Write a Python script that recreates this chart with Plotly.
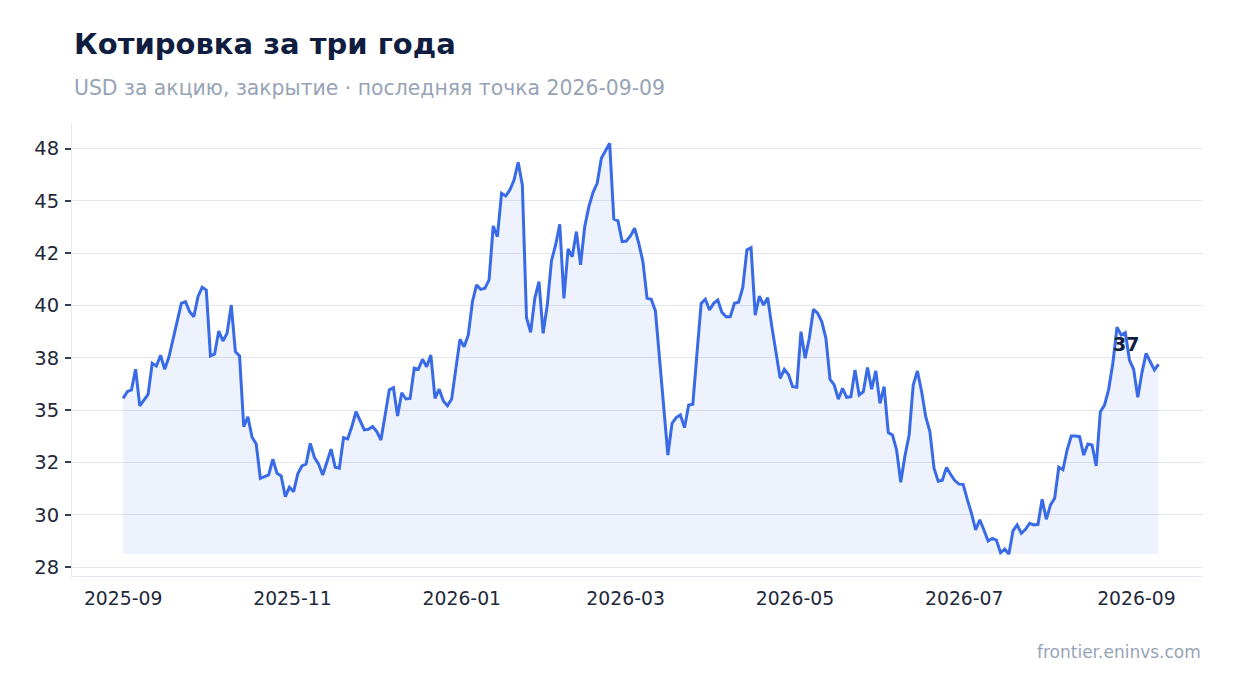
import pandas as pd
import plotly.graph_objects as go

start_date = "2025-09-01"
end_date = "2026-09-09"

prices = [
    35.56, 35.88, 35.96, 36.95, 35.20, 35.48, 35.75, 37.24, 37.11, 37.62,
    36.95, 37.52, 38.38, 39.26, 40.10, 40.18, 39.70, 39.46, 40.42, 40.87,
    40.74, 37.59, 37.68, 38.78, 38.30, 38.67, 40.02, 37.79, 37.59, 34.21,
    34.68, 33.70, 33.38, 31.74, 31.82, 31.90, 32.65, 31.98, 31.85, 30.86,
    31.31, 31.10, 31.95, 32.33, 32.42, 33.41, 32.74, 32.42, 31.90, 32.49,
    33.13, 32.27, 32.22, 33.68, 33.62, 34.21, 34.92, 34.49, 34.05, 34.08,
    34.21, 33.97, 33.57, 34.75, 35.96, 36.07, 34.72, 35.83, 35.53, 35.56,
    37.00, 36.95, 37.43, 37.07, 37.63, 35.56, 36.00, 35.44, 35.21, 35.53,
    37.07, 38.38, 38.03, 38.59, 40.18, 40.98, 40.77, 40.82, 41.22, 43.80,
    43.29, 45.36, 45.23, 45.52, 45.99, 46.84, 45.76, 39.42, 38.72, 40.34,
    41.14, 38.67, 40.02, 42.13, 42.89, 43.88, 40.34, 42.70, 42.33, 43.53,
    41.94, 43.77, 44.72, 45.41, 45.84, 47.04, 47.39, 47.75, 44.13, 44.04,
    43.05, 43.08, 43.32, 43.69, 42.97, 42.09, 40.34, 40.30, 39.74, 37.45,
    34.90, 32.85, 34.37, 34.64, 34.77, 34.16, 35.24, 35.28, 37.71, 40.10,
    40.30, 39.78, 40.10, 40.26, 39.67, 39.46, 39.46, 40.10, 40.15, 40.85,
    42.65, 42.76, 39.54, 40.45, 40.02, 40.37, 38.99, 37.71, 36.52, 36.95,
    36.70, 36.12, 36.09, 38.75, 37.48, 38.43, 39.82, 39.63, 39.23, 38.43,
    36.47, 36.20, 35.52, 36.04, 35.61, 35.64, 36.92, 35.72, 35.88, 37.03,
    36.00, 36.87, 35.32, 36.12, 33.92, 33.81, 33.09, 31.55, 32.80, 33.80,
    36.20, 36.87, 35.90, 34.68, 33.97, 32.22, 31.60, 31.65, 32.26, 31.92,
    31.63, 31.46, 31.45, 30.73, 30.07, 29.27, 29.75, 29.27, 28.74, 28.87,
    28.79, 28.18, 28.35, 28.12, 29.24, 29.51, 29.11, 29.30, 29.59, 29.51,
    29.54, 30.74, 29.78, 30.46, 30.78, 32.27, 32.15, 33.09, 33.76, 33.76,
    33.73, 32.85, 33.38, 33.33, 32.33, 34.92, 35.24, 35.99, 37.24, 38.96,
    38.59, 38.70, 37.39, 36.95, 35.61, 36.79, 37.71, 37.31, 36.92, 37.19,
]

dates = pd.date_range(start_date, end_date, periods=len(prices))

y_tickvals = [27.5, 30.0, 32.5, 35.0, 37.5, 40.0, 42.5, 45.0, 47.5]
y_ticktext = [str(round(v)) for v in y_tickvals]

title_text = "Котировка за три года"
subtitle_text = "USD за акцию, закрытие · последняя точка 2026-09-09"
source_text = "frontier.eninvs.com"

LINE = "#3a6be6"
FILL = "rgba(58,107,230,0.09)"
NAVY = "#0f1d40"
GREY = "#97a3b6"
FONT = "DejaVu Sans"

base = min(prices)

fig = go.Figure()
fig.add_trace(go.Scatter(
    x=dates, y=[base] * len(prices), mode="lines",
    line=dict(width=0, color="rgba(0,0,0,0)"), hoverinfo="skip", showlegend=False,
))
fig.add_trace(go.Scatter(
    x=dates, y=prices, mode="lines", fill="tonexty", fillcolor=FILL,
    line=dict(color=LINE, width=3), showlegend=False,
))

fig.add_annotation(
    x=dates[-1], y=prices[-1], text="<b>%d</b>" % round(prices[-1]),
    showarrow=False, xanchor="right", yanchor="bottom", xshift=-18, yshift=7,
    font=dict(family=FONT, size=19, color=NAVY),
)
fig.add_annotation(
    xref="paper", yref="paper", x=0, y=1.174, text="<b>%s</b>" % title_text,
    showarrow=False, xanchor="left", yanchor="middle",
    font=dict(family=FONT, size=29, color=NAVY),
)
fig.add_annotation(
    xref="paper", yref="paper", x=0, y=1.077, text=subtitle_text,
    showarrow=False, xanchor="left", yanchor="middle",
    font=dict(family=FONT, size=20.4, color=GREY),
)
fig.add_annotation(
    xref="paper", yref="paper", x=1, y=-0.168, text=source_text,
    showarrow=False, xanchor="right", yanchor="middle",
    font=dict(family=FONT, size=17, color=GREY),
)

fig.update_layout(
    width=1234, height=693,
    margin=dict(l=64, r=39, t=115, b=125),
    paper_bgcolor="white", plot_bgcolor="white",
    font=dict(family=FONT, color="#1e293b"),
    showlegend=False,
)
fig.update_xaxes(
    type="date",
    range=["2025-08-13 14:00", "2026-09-25"],
    tick0="2025-09-01", dtick="M2", tickformat="%Y-%m",
    showgrid=False, showline=True, linecolor="#e2e8f0", linewidth=1,
    ticks="", ticklabelstandoff=5,
    tickfont=dict(family=FONT, size=18.8, color="#1e293b"),
    zeroline=False,
)
fig.update_yaxes(
    range=[27.07, 48.72],
    tickvals=y_tickvals, ticktext=y_ticktext,
    showgrid=True, gridcolor="#e3e8f0", gridwidth=1,
    showline=True, linecolor="#e2e8f0", linewidth=1,
    ticks="outside", ticklen=6, tickcolor="#334155", tickwidth=2,
    ticklabelstandoff=2,
    tickfont=dict(family=FONT, size=19.5, color="#1e293b"),
    zeroline=False,
)

fig.write_html("out.html")
